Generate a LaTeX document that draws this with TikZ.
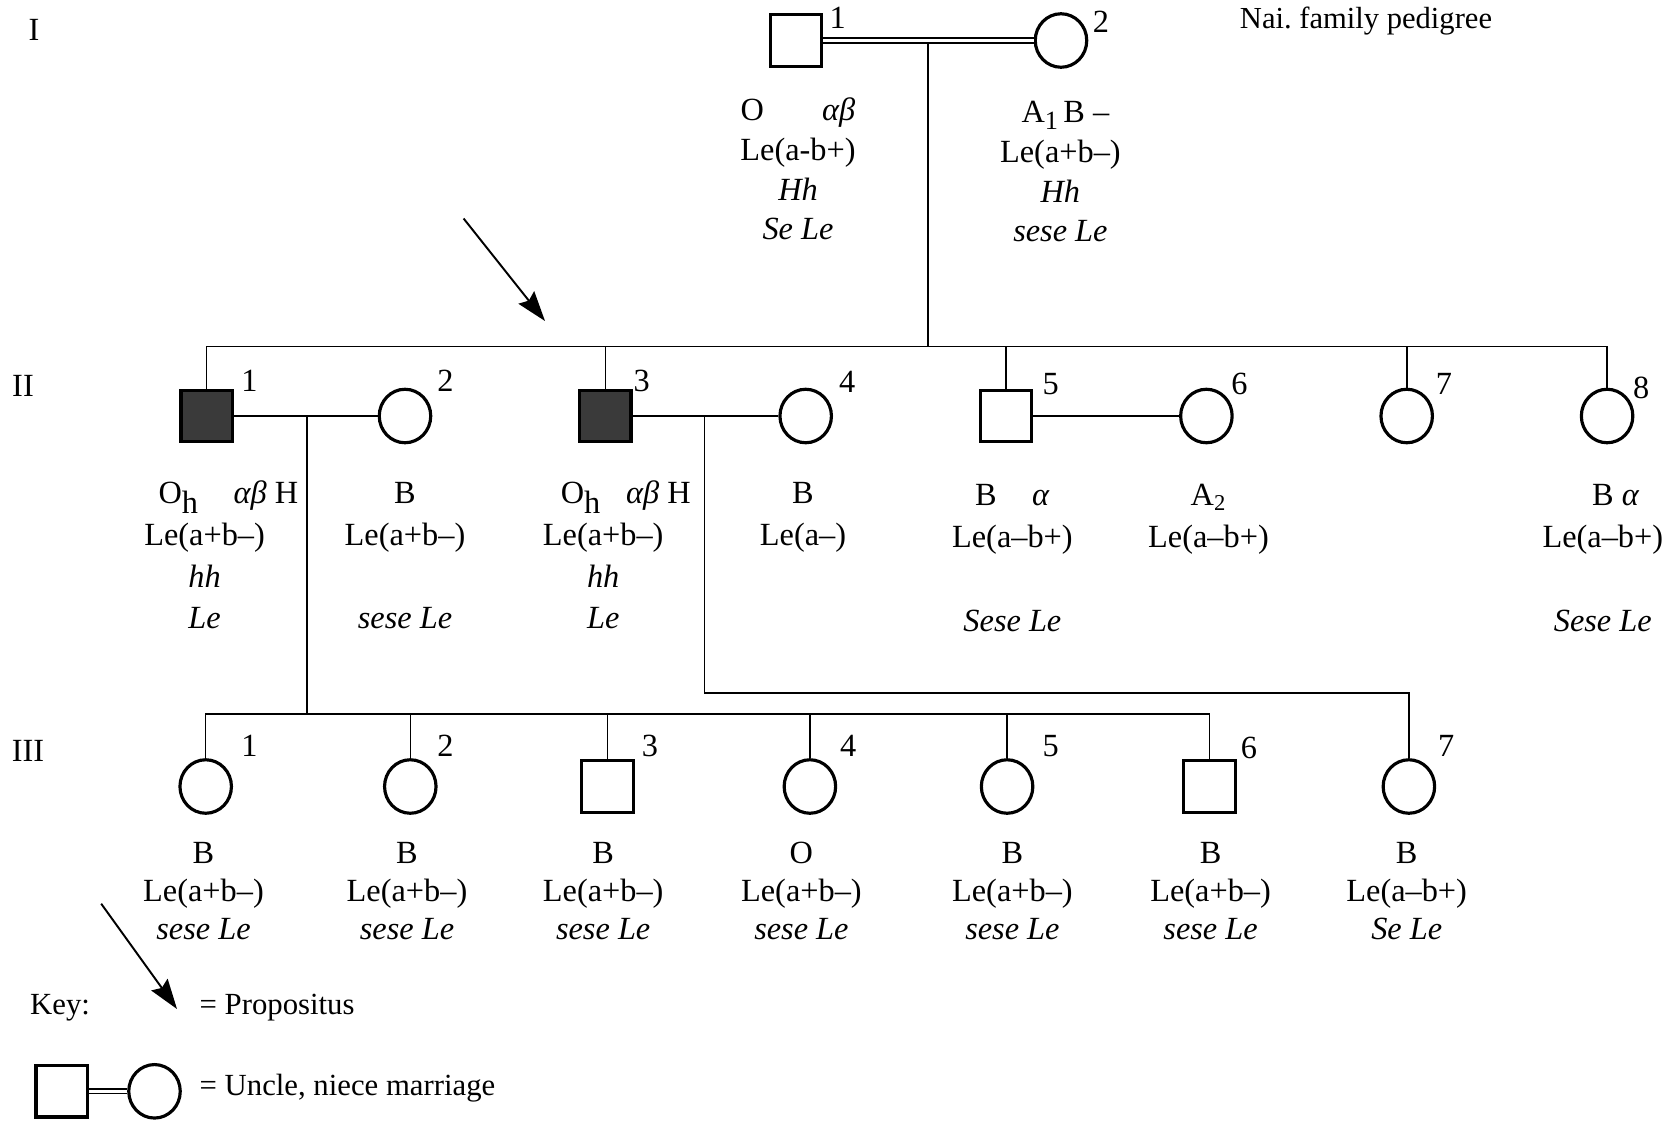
\documentclass[tikz,border=0pt]{standalone}
\usepackage{fontspec}
\setmainfont{Liberation Serif}
\usetikzlibrary{arrows.meta, shapes.geometric}
\definecolor{affgray}{RGB}{58,58,58}
\newcommand{\lowsub}[2]{\raisebox{-#1}{#2}}

\begin{document}
\begin{tikzpicture}[x=0.02cm, y=-0.02cm,
  every node/.style={font=\fontsize{18.4}{22}\selectfont, inner sep=0pt},
  male/.style={draw, rectangle, line width=1.8pt, minimum size=1.03cm},
  female/.style={draw, ellipse, line width=1.8pt, minimum width=1.03cm,
                 minimum height=1.07cm},
  affected/.style={fill=affgray},
  link/.style={line width=0.9pt},
  consang/.style={line width=0.9pt, double, double distance=1.8pt},
  info/.style={anchor=north, align=center},
  infoI/.style={info, font=\fontsize{18.4}{22.6}\selectfont},
  infoII/.style={info, font=\fontsize{18.4}{23.84}\selectfont},
  infoIII/.style={info, font=\fontsize{18.4}{21.74}\selectfont},
  keytext/.style={anchor=base west, font=\fontsize{17.5}{21}\selectfont},
  pointer/.style={line width=1.1pt,
                  -{Stealth[length=0.6cm, width=0.4cm, inset=0.08cm]}}]
  \useasboundingbox (0,0) rectangle (1671,1123);

  % Generation numerals and title
  \node (genI) at (34,30) {I};
  \node (genII) at (23,386) {II};
  \node (genIII) at (28,751) {III};
  \node[font=\fontsize{17.4}{20}\selectfont] (title) at (1366,21)
    {Nai.\ family pedigree};

  % Generation I
  \node[male] (I1) at (796,40.5) {};
  \node[female] (I2) at (1061,40.5) {};
  \coordinate (mI) at (928,40.5);
  \coordinate (sibII) at (928,346.4);
  \draw[link] (mI) -- (sibII);
  \draw[consang] (I1) -- (I2);
  \node (nI1) at (837.6,18.1) {1};
  \node (nI2) at (1100.9,21.3) {2};

  % Generation II
  \node[male, affected] (II1) at (206.7,416) {};
  \node[female] (II2) at (405,416) {};
  \node[male, affected] (II3) at (605.3,416) {};
  \node[female] (II4) at (805.7,416) {};
  \node[male] (II5) at (1006,416) {};
  \node[female] (II6) at (1206.4,416) {};
  \node[female] (II7) at (1406.7,416) {};
  \node[female] (II8) at (1607.1,416) {};
  \draw[link] (II1.north) |- (sibII) -| (II8.north);
  \foreach \c in {II3,II5,II7}
    \draw[link] (\c.north) -- (\c.north |- sibII);
  \draw[link] (II1) -- (II2);
  \draw[link] (II3) -- (II4);
  \draw[link] (II5) -- (II6);
  \node (nII1) at (249.4,380.5) {1};
  \node (nII2) at (445.5,380.5) {2};
  \node (nII3) at (641.6,380.5) {3};
  \node (nII4) at (847.2,381.5) {4};
  \node (nII5) at (1050.8,383.6) {5};
  \node (nII6) at (1239.4,383.6) {6};
  \node (nII7) at (1444,383.6) {7};
  \node (nII8) at (1641.2,388) {8};

  % Generation III
  \node[female] (III1) at (205.7,786.5) {};
  \node[female] (III2) at (410.3,786.5) {};
  \node[male] (III3) at (607.4,786.5) {};
  \node[female] (III4) at (809.9,786.5) {};
  \node[female] (III5) at (1007.1,786.5) {};
  \node[male] (III6) at (1209.6,786.5) {};
  \node[female] (III7) at (1408.9,786.5) {};
  \coordinate (m12) at (306.9,416);
  \coordinate (sibIII) at (306.9,714);
  \draw[link] (m12) -- (sibIII);
  \draw[link] (III1.north) |- (sibIII) -| (III6.north);
  \foreach \c in {III2,III3,III4,III5}
    \draw[link] (\c.north) -- (\c.north |- sibIII);
  \coordinate (m34) at (704.4,416);
  \coordinate (bend34) at (704.4,692.7);
  \draw[link] (m34) -- (bend34) -| (III7.north);
  \node (nIII1) at (249.4,746) {1};
  \node (nIII2) at (445.5,746) {2};
  \node (nIII3) at (650,746) {3};
  \node (nIII4) at (848.3,746) {4};
  \node (nIII5) at (1050.8,746) {5};
  \node (nIII6) at (1249,748) {6};
  \node (nIII7) at (1446.2,746) {7};

  % Propositus
  \coordinate (propTail) at (463.6,218.5);
  \coordinate (propTip) at (545,321);
  \draw[pointer] (propTail) -- (propTip);

  % Phenotypes and genotypes
  \node[infoI] (tI1) at (798,92.6)
    {O\hspace{1.8em}\textit{αβ}\strut\\Le(a-b+)\\\textit{Hh}\\\textit{Se Le}};
  \node[infoI] (tI2) at (1060.4,94.7)
    {\hspace*{0.2cm}A\lowsub{4pt}{\fontsize{15}{18}\selectfont 1}\,B --\strut\\
     Le(a+b--)\\\textit{Hh}\\\textit{sese Le}};
  \node[infoII] (tII1) at (204.6,473.6)
    {\hspace*{0.95cm}O\lowsub{6pt}{h}\hspace{1.1em}\textit{αβ} H\strut\\
     Le(a+b--)\\\textit{hh}\\\textit{Le}};
  \node[infoII] (tII2) at (405,473.6)
    {B\strut\\Le(a+b--)\\\strut\\\textit{sese Le}};
  \node[infoII] (tII3) at (603.2,473.6)
    {\hspace*{0.9cm}O\lowsub{6pt}{h}\hspace{0.8em}\textit{αβ} H\strut\\
     Le(a+b--)\\\textit{hh}\\\textit{Le}};
  \node[infoII] (tII4) at (803,473.6) {B\strut\\Le(a--)};
  \node[infoII] (tII5) at (1012.4,476.3)
    {B\hspace{1.1em}\textit{α}\strut\\Le(a--b+)\\\strut\\\textit{Sese Le}};
  \node[infoII] (tII6) at (1208.5,476.3) {A\textsubscript{2}\strut\\Le(a--b+)};
  \node[infoII] (tII8) at (1602.8,476.3)
    {\hspace*{0.52cm}B \textit{α}\strut\\Le(a--b+)\\\strut\\\textit{Sese Le}};
  \node[infoIII] (tIII1) at (203.5,836.5) {B\strut\\Le(a+b--)\\\textit{sese Le}};
  \node[infoIII] (tIII2) at (407,836.5) {B\strut\\Le(a+b--)\\\textit{sese Le}};
  \node[infoIII] (tIII3) at (603.2,836.5) {B\strut\\Le(a+b--)\\\textit{sese Le}};
  \node[infoIII] (tIII4) at (801.4,836.5) {O\strut\\Le(a+b--)\\\textit{sese Le}};
  \node[infoIII] (tIII5) at (1012.4,836.5) {B\strut\\Le(a+b--)\\\textit{sese Le}};
  \node[infoIII] (tIII6) at (1210.6,836.5) {B\strut\\Le(a+b--)\\\textit{sese Le}};
  \node[infoIII] (tIII7) at (1406.7,836.5) {B\strut\\Le(a--b+)\\\textit{Se Le}};

  % Key
  \node[keytext] (keylabel) at (29.8,1014.5) {Key:};
  \coordinate (keyTail) at (101.2,903.7);
  \coordinate (keyTip) at (177,1009);
  \draw[pointer] (keyTail) -- (keyTip);
  \node[keytext] (keyprop) at (199.3,1014.5) {= Propositus};
  \node[male] (keyM) at (61.8,1091.3) {};
  \node[female] (keyF) at (154.5,1091.3) {};
  \draw[consang] (keyM) -- (keyF);
  \node[keytext] (keycons) at (199.3,1095.5) {= Uncle, niece marriage};
\end{tikzpicture}
\end{document}
